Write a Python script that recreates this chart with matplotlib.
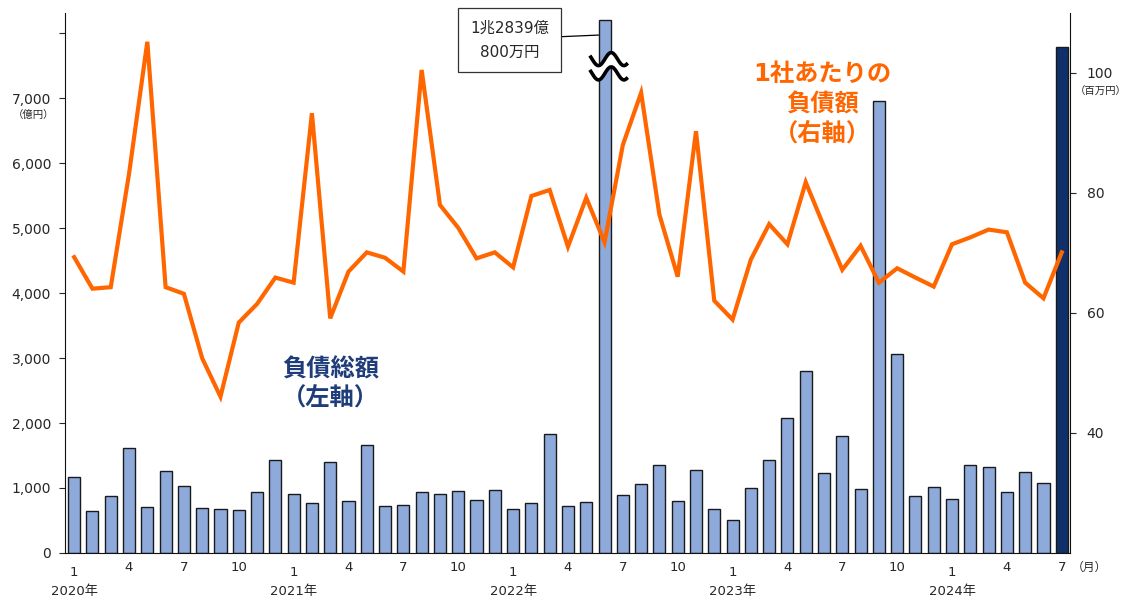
import matplotlib
matplotlib.use("Agg")
import matplotlib.pyplot as plt
import numpy as np

plt.rcParams['font.family'] = ['DejaVu Sans', 'Noto Sans CJK JP']

# Jan 2020 .. Jul 2024
years = [2020] * 12 + [2021] * 12 + [2022] * 12 + [2023] * 12 + [2024] * 7
months = list(range(1, 13)) * 4 + list(range(1, 8))

# total debt per month (億円)
total_debt = [
    1175, 650, 875, 1610, 705, 1265, 1035, 690, 675, 665, 945, 1435,
    900, 770, 1395, 795, 1660, 720, 735, 945, 905, 960, 810, 975,
    675, 775, 1825, 720, 790, 12839.08, 890, 1055, 1350, 800, 1280, 675,
    505, 1000, 1425, 2080, 2800, 1225, 1800, 985, 6955, 3055, 875, 1010,
    835, 1360, 1320, 945, 1250, 1075, 7780,
]
# debt per company (百万円)
per_company = [
    69.3, 64.05, 64.3, 83.2, 105.2, 64.3, 63.2, 52.45, 46.05, 58.4, 61.5, 65.9,
    65.05, 93.3, 59.1, 66.9, 70.1, 69.2, 66.9, 100.5, 78.0, 74.2, 69.1, 70.1,
    67.6, 79.5, 80.5, 71.05, 79.2, 71.8, 88.0, 96.7, 76.4, 66.05, 90.3, 62.05,
    58.9, 68.9, 74.8, 71.45, 81.8, 74.4, 67.2, 71.2, 65.05, 67.45, 65.9, 64.4,
    71.45, 72.6, 73.9, 73.45, 65.05, 62.45, 70.1,
]
big_label = "1兆2839億\n800万円"

BAR = "#8eaadb"
NAVY = "#10306a"
ORANGE = "#ff6600"
TXT = "#262626"
CAP = 8200  # bar drawn broken above this

x = np.arange(len(total_debt))
shown = np.minimum(total_debt, CAP)
colors = [BAR] * (len(x) - 1) + [NAVY]

fig = plt.figure(figsize=(11.25, 5.98), dpi=100)
ax = fig.add_axes([0.0578, 0.0753, 0.8933, 0.9030])
ax.bar(x, shown, width=0.66, color=colors, edgecolor="#1a1a1a", linewidth=1.0, zorder=2)
ax.set_xlim(-0.5, 54.45)
ax.set_ylim(0, 8310)
ax.set_yticks(range(0, 8001, 1000))
ax.set_yticklabels([f"{v:,}" for v in range(0, 7001, 1000)] + [""])
ax.tick_params(axis="y", direction="out", length=4, colors=TXT, labelsize=10, pad=6)
ax.tick_params(axis="x", length=0, labelbottom=False)
for s in ["top", "right"]:
    ax.spines[s].set_visible(False)
for s in ["left", "bottom"]:
    ax.spines[s].set_color("#111111")

# line on right axis
ax2 = ax.twinx()
ax2.plot(x, per_company, color=ORANGE, lw=3, solid_joinstyle="miter", zorder=3)
ax2.set_ylim(20, 110)
ax2.set_yticks([40, 60, 80, 100])
ax2.tick_params(axis="y", direction="out", length=4, colors=TXT, labelsize=10, pad=8)
for s in ["top", "left", "bottom"]:
    ax2.spines[s].set_visible(False)
ax2.spines["right"].set_color("#111111")

# month / year labels
xt = ax.get_xaxis_transform()
for i, (yy, mm) in enumerate(zip(years, months)):
    if mm in (1, 4, 7, 10):
        ax.text(i, -0.037 if mm == 1 else -0.026, str(mm), transform=xt,
                ha="center", va="center", fontsize=9.5, color=TXT)
    if mm == 1:
        ax.text(i, -0.072, f"{yy}年", transform=xt, ha="center", va="center",
                fontsize=9.5, color=TXT)
ax.text(54.55, -0.026, "（月）", transform=xt, ha="left", va="center",
        fontsize=8.5, color=TXT)

fig.text(0.030, 0.808, "（億円）", ha="center", va="center", fontsize=7.5, color=TXT)
fig.text(0.978, 0.846, "（百万円）", ha="center", va="center", fontsize=7.5, color=TXT)

# break mark on the off-scale bar
ib = int(np.argmax(total_debt))
t = np.linspace(0, 1, 60)
wx = ib - 0.75 + 1.95 * t
wave = 100 * np.sin(2 * np.pi * 1.4 * t + np.pi * 0.9)
lo = 7380 + wave
hi = 7600 + wave
ax.fill_between(wx, lo, hi, color="white", zorder=4)
ax.plot(wx, lo, color="black", lw=2.6, zorder=5)
ax.plot(wx, hi, color="black", lw=2.6, zorder=5)

ax.annotate(big_label, xy=(ib - 0.33, 7970), xytext=(23.8, 7895),
            ha="center", va="center", fontsize=11, color=TXT, linespacing=1.75,
            bbox=dict(boxstyle="square,pad=0.8", fc="white", ec="#333333", lw=0.9),
            arrowprops=dict(arrowstyle="-", color="black", lw=0.9,
                            shrinkA=0, shrinkB=0, relpos=(1.0, 0.57)),
            zorder=6)

# series labels
ax.text(14.0, 2600, "負債総額\n（左軸）", ha="center", va="center", fontsize=17.5,
        fontweight="bold", color="#1f3d7a", linespacing=1.3)
ax2.text(40.9, 94.8, "1社あたりの\n負債額\n（右軸）", ha="center", va="center",
         fontsize=17.5, fontweight="bold", color=ORANGE, linespacing=1.3)

fig.savefig("out.png", dpi=100)
